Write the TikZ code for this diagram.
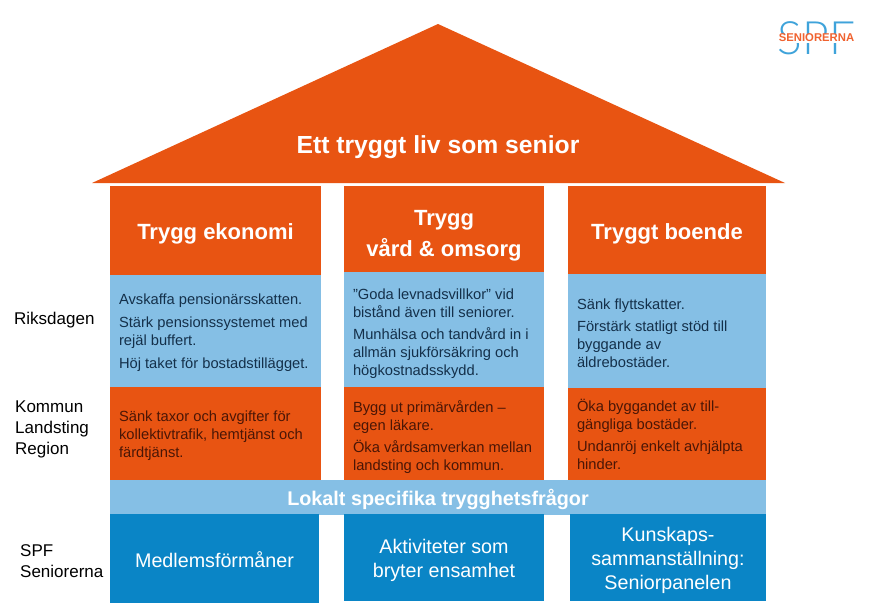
\documentclass[tikz,border=0pt]{standalone}
\usepackage{fontspec}
\usepackage{tikz}
\usetikzlibrary{positioning}
\setmainfont{Liberation Sans}
\newfontfamily\logofont{Lato Light}
\definecolor{spforange}{HTML}{E85412}
\definecolor{spflight}{HTML}{85BFE5}
\definecolor{spfblue}{HTML}{0A85C6}
\definecolor{inkblue}{HTML}{14304A}
\definecolor{inkred}{HTML}{4A1606}
\definecolor{logoblue}{HTML}{3FA3DA}
\definecolor{logored}{HTML}{F0622F}
\tikzstyle{block}=[rectangle,inner sep=0pt,outer sep=0pt,anchor=north west]
\tikzstyle{head}=[block,fill=spforange,text=white]
\tikzstyle{riks}=[block,fill=spflight]
\tikzstyle{kommun}=[block,fill=spforange]
\tikzstyle{base}=[block,fill=spfblue]
\tikzstyle{headtext}=[align=center,text=white,font=\fontsize{22}{31}\selectfont\bfseries]
\tikzstyle{basetext}=[align=center,text=white,font=\fontsize{19.7}{24}\selectfont]
\tikzstyle{bluetext}=[anchor=west,align=left,text=inkblue,font=\fontsize{14.7}{18}\selectfont]
\tikzstyle{redtext}=[anchor=west,align=left,text=inkred,font=\fontsize{14.7}{18}\selectfont]
\tikzstyle{side}=[anchor=west,align=left,inner sep=0pt,font=\fontsize{17}{21}\selectfont]

\begin{document}
\begin{tikzpicture}[x=1pt,y=-1pt]
    \useasboundingbox (0,0) rectangle (885,605);
    % roof
    \fill[spforange] (438,24) -- (785,183) -- (92,183) -- cycle;
    \node[text=white,font=\fontsize{24.7}{30}\selectfont\bfseries] (title) at (438,147) {Ett tryggt liv som senior};
    % columns
    \node[head, minimum width=211pt, minimum height=89pt] (h1) at (110,186) {};
    \node[head, minimum width=200pt, minimum height=86pt] (h2) at (344,186) {};
    \node[head, minimum width=198pt, minimum height=88pt] (h3) at (568,186) {};
    \node[riks, minimum width=211pt, minimum height=112pt] (r1) at (h1.south west) {};
    \node[riks, minimum width=200pt, minimum height=115pt] (r2) at (h2.south west) {};
    \node[riks, minimum width=198pt, minimum height=114pt] (r3) at (h3.south west) {};
    \node[kommun, minimum width=211pt, minimum height=93pt] (k1) at (r1.south west) {};
    \node[kommun, minimum width=200pt, minimum height=94pt] (k2) at (r2.south west) {};
    \node[kommun, minimum width=198pt, minimum height=92pt] (k3) at (r3.south west) {};
    \node[riks, minimum width=656pt, minimum height=35pt] (band) at (110,480) {};
    \node[base, minimum width=209pt, minimum height=89pt] (b1) at (110,514) {};
    \node[base, minimum width=200pt, minimum height=87pt] (b2) at (344,514) {};
    \node[base, minimum width=196pt, minimum height=87pt] (b3) at (570,514) {};
    % column texts
    \node[headtext] (h1t) at ([yshift=-3pt]h1.center) {Trygg ekonomi};
    \node[headtext] (h2t) at ([yshift=-7pt]h2.center) {Trygg\\vård \& omsorg};
    \node[headtext] (h3t) at ([yshift=-4pt]h3.center) {Tryggt boende};
    \node[bluetext] (r1t) at ([xshift=5.5pt,yshift=-1.5pt]r1.west) {Avskaffa pensionärsskatten.\\[5pt]Stärk pensionssystemet med\\rejäl buffert.\\[5pt]Höj taket för bostadstillägget.};
    \node[bluetext] (r2t) at ([xshift=5.5pt,yshift=-4pt]r2.west) {”Goda levnadsvillkor” vid\\bistånd även till seniorer.\\[4pt]Munhälsa och tandvård in i\\allmän sjukförsäkring och\\högkostnadsskydd.};
    \node[bluetext] (r3t) at ([xshift=5.5pt,yshift=-2pt]r3.west) {Sänk flyttskatter.\\[4pt]Förstärk statligt stöd till\\byggande av\\äldrebostäder.};
    \node[redtext] (k1t) at ([xshift=5.5pt,yshift=-2pt]k1.west) {Sänk taxor och avgifter för\\kollektivtrafik, hemtjänst och\\färdtjänst.};
    \node[redtext] (k2t) at ([xshift=5.5pt,yshift=-3pt]k2.west) {Bygg ut primärvården –\\egen läkare.\\[4pt]Öka vårdsamverkan mellan\\landsting och kommun.};
    \node[redtext] (k3t) at ([xshift=5.5pt]k3.west) {Öka byggandet av till-\\gängliga bostäder.\\[4pt]Undanröj enkelt avhjälpta\\hinder.};
    \node[text=white,font=\fontsize{19.8}{22}\selectfont\bfseries] (bandt) at ([yshift=-1.5pt]band.center) {Lokalt specifika trygghetsfrågor};
    \node[basetext] (b1t) at ([yshift=-1pt]b1.center) {Medlemsförmåner};
    \node[basetext] (b2t) at ([yshift=-3pt]b2.center) {Aktiviteter som\\bryter ensamhet};
    \node[basetext] (b3t) at ([yshift=-3pt]b3.center) {Kunskaps-\\sammanställning:\\Seniorpanelen};
    % levels
    \node[side] (riksdagen) at (14,320) {Riksdagen};
    \node[side] (kommuner) at (15,429) {Kommun\\Landsting\\Region};
    \node[side] (spf) at (20,561) {SPF\\Seniorerna};
    % logo
    \node[text=logoblue,font=\logofont\fontsize{46}{46}\selectfont,inner sep=0pt] (logo) at (816.5,38) {SPF};
    \node[text=logored,fill=white,font=\fontsize{11.3}{12}\selectfont\bfseries,inner sep=.5pt] (logot) at (816.5,38) {SENIORERNA};
\end{tikzpicture}
\end{document}
